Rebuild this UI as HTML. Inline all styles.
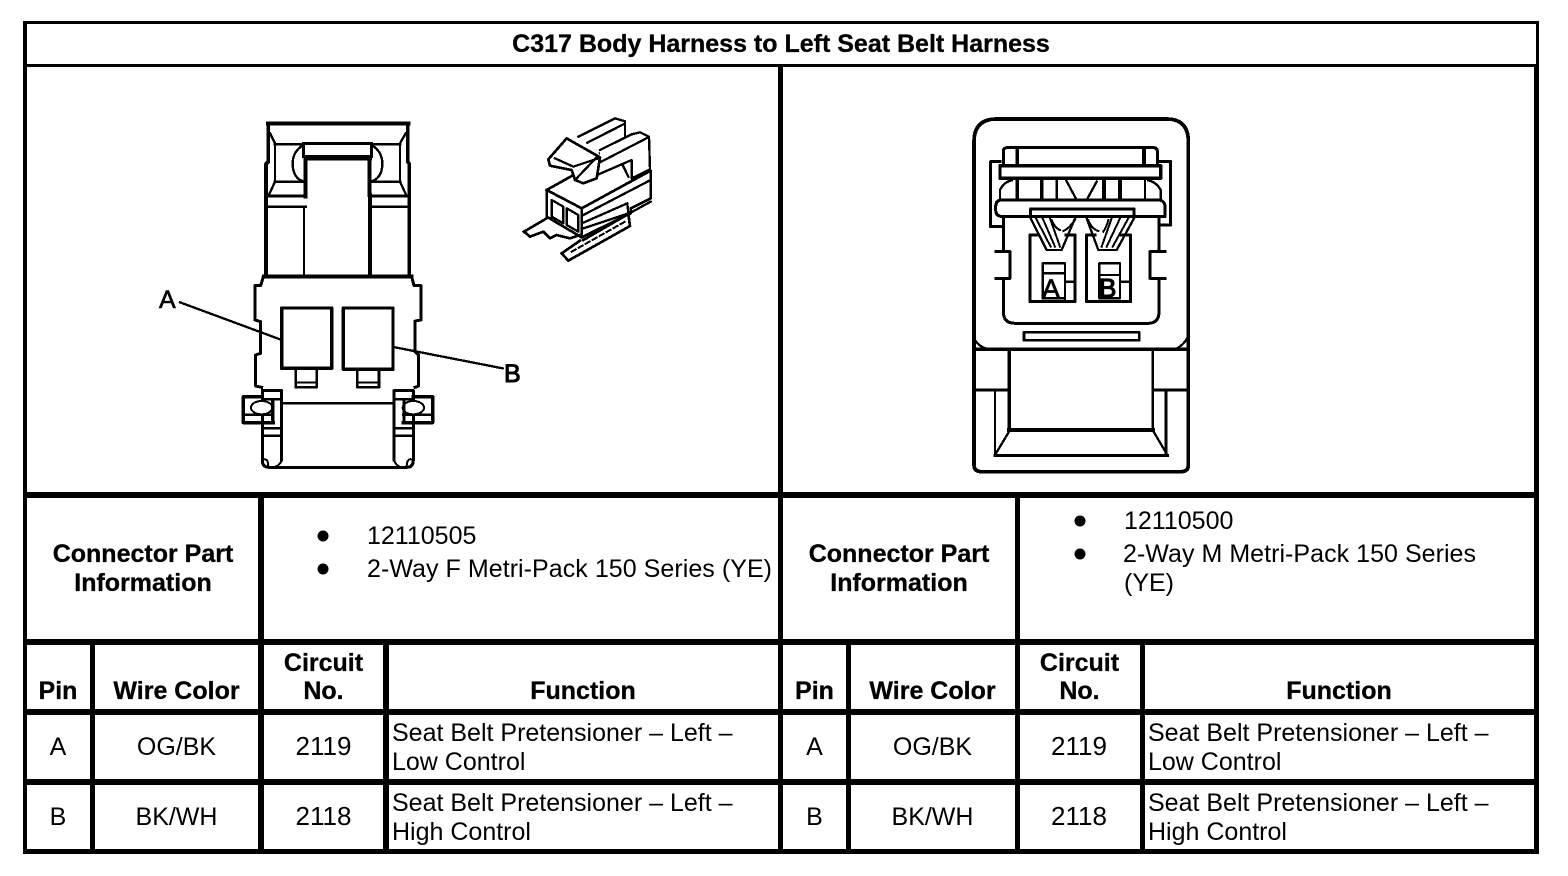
<!DOCTYPE html>
<html lang="en">
<head>
<meta charset="utf-8">
<title>C317 Body Harness to Left Seat Belt Harness</title>
<style>
html,body{margin:0;padding:0;background:#fff;width:1568px;height:876px;overflow:hidden}
svg{display:block}
text{font-family:"Liberation Sans",sans-serif;fill:#000}
.b{font-weight:bold;font-size:25px;text-anchor:middle;stroke:#000;stroke-width:.3px}
.r{font-size:25px}
.c{font-size:25px;text-anchor:middle}
.n{font-size:26px;text-anchor:middle}
.l{font-size:25px}
.ln{fill:none;stroke:#000;stroke-linejoin:round;stroke-linecap:square;shape-rendering:crispEdges}
</style>
</head>
<body>
<svg width="1568" height="876" viewBox="0 0 1568 876" xmlns="http://www.w3.org/2000/svg">
<rect width="1568" height="876" fill="#fff"/>
<g fill="#000" shape-rendering="crispEdges">
<rect x="23" y="21" width="1516" height="3"/>
<rect x="23" y="21" width="4" height="833"/>
<rect x="1536" y="21" width="3" height="45"/><rect x="1534" y="64" width="5" height="790"/>
<rect x="23" y="64" width="1516" height="3"/>
<rect x="23" y="492" width="1516" height="6"/>
<rect x="23" y="639" width="1516" height="6"/>
<rect x="23" y="709" width="1516" height="6"/>
<rect x="23" y="779" width="1516" height="6"/>
<rect x="23" y="849" width="1516" height="5"/>
<rect x="778" y="64" width="5" height="790"/>
<rect x="258" y="492" width="6" height="362"/>
<rect x="1015" y="492" width="5" height="362"/>
<rect x="90" y="639" width="5" height="215"/>
<rect x="846" y="639" width="5" height="215"/>
<rect x="383" y="639" width="6" height="215"/>
<rect x="1140" y="639" width="5" height="215"/>
</g>

<text class="b" x="781" y="52">C317 Body Harness to Left Seat Belt Harness</text>

<!-- Left connector -->
<g transform="translate(140,110) scale(.33333)" class="ln">
<path stroke-width="12" d="M384,40H805"/>
<path stroke-width="11" d="M385,40V155L378,162V500M803,40V155L808,162V500"/>
<path stroke-width="7" d="M390,70L405,100V215L388,252M797,70L780,100V215L797,252"/>
<path stroke-width="8" d="M405,103H490M700,103H780M405,215H490M692,215H780"/>
<path stroke-width="9" d="M490,100H695M490,100V140H695V100"/>
<path stroke-width="12" d="M497,145V260M688,145V255M500,146H690"/>
<path stroke-width="7" d="M490,105Q458,125 458,160Q458,205 492,215M695,105Q727,125 727,160Q727,205 692,215"/>
<path stroke-width="10" d="M385,258H497M695,258H802"/>
<path stroke-width="7" d="M385,290H497M695,290H802M492,290V500"/>
<path stroke-width="12" d="M690,255V500"/>
<path stroke-width="12" d="M372,500H815"/>
<path stroke-width="9" d="M370,500L362,527H345V630L362,635V730L347,735V828L365,832M815,500L822,527H843V630L825,633V725L836,735V828L825,832"/>
<rect x="425" y="594" width="150" height="181" fill="#fff" stroke-width="10"/>
<rect x="610" y="594" width="149" height="184" fill="#fff" stroke-width="10"/>
<path stroke-width="8" d="M467,775V832H530V775M652,778V832H717V778"/>
<path stroke-width="6" d="M467,817H530M652,817H717"/>
<path stroke-width="8" d="M425,880H760"/>
<path stroke-width="9" d="M367,842H425V1050M367,842V1050Q367,1072 387,1072H800Q820,1072 820,1050V842H762V1050"/>
<path stroke-width="6" d="M367,1050Q385,1040 385,1072M425,1050Q420,1068 400,1072M820,1050Q800,1040 800,1072M762,1050Q767,1068 785,1072"/>
<path stroke-width="7" d="M367,955H425M367,977H425M762,955H820M762,977H820M367,868H425M762,868H820"/>
<path stroke-width="10" d="M367,860H310V938H400M820,860H878V938H790"/>
<path stroke-width="7" d="M310,914H400M790,914H878"/>
<ellipse cx="365" cy="893" rx="32" ry="20" stroke-width="6" fill="#fff"/>
<ellipse cx="820" cy="893" rx="32" ry="20" stroke-width="6" fill="#fff"/>
<path stroke-width="10" d="M398,870V932M792,870V932"/>
<path stroke-width="7" d="M120,577L420,688M765,712L1088,775"/>
</g>
<text x="159" y="308" font-size="25" stroke="#000" stroke-width=".6">A</text>
<text x="504" y="382" font-size="25" stroke="#000" stroke-width="1">B</text>

<!-- Isometric connector -->
<g transform="translate(500,100) scale(.33333)" class="ln" stroke-width="7">
<path fill="#fff" d="M235,110L345,55L375,64V125L300,160"/>
<path d="M262,128L372,72"/>
<path fill="#fff" d="M300,150L395,103L420,97L447,110L450,208L395,235V180L298,222"/>
<path d="M298,188L445,112M368,195L385,230"/>
<path fill="#fff" stroke-width="8" d="M145,178L200,115L300,172L290,235L250,250L225,240L215,210L150,197Z"/>
<path d="M165,175L220,200L295,175M225,240L290,172"/>
<path fill="#fff" stroke-width="8" d="M140,270L215,228M140,270L245,325L452,212V295L392,325V340L245,412V325M140,270V350L245,412"/>
<path d="M250,345L452,240M250,368L382,310L385,340L250,385M392,338L452,305"/>
<path stroke-width="7" d="M155,300L190,320V370L155,350ZM200,325L235,345V395L200,375Z"/>
<path stroke-width="8" d="M72,395L140,355M72,395L90,410L130,395L150,415L170,405L210,415L240,405"/>
<path stroke-width="8" d="M185,460L240,422M185,460L205,482L390,378L385,342L250,420"/>
<path stroke-width="6" stroke-dasharray="14,10" d="M215,455L375,365"/>
</g>

<!-- Right connector -->
<g transform="translate(960,105) scale(.33333)" class="ln">
<path stroke-width="11" d="M42,1080V110Q42,42 110,42H620Q685,42 685,110V1080Q685,1100 662,1100H65Q42,1100 42,1080Z"/>
<path stroke-width="11" d="M42,733H685"/>
<path stroke-width="7" d="M42,700Q55,725 85,733M685,695Q670,722 645,733"/>
<rect x="192" y="682" width="346" height="24" stroke-width="8"/>
<path stroke-width="11" d="M148,733V975"/>
<path stroke-width="7" d="M578,733V975"/>
<path stroke-width="13" d="M148,975H578"/>
<path stroke-width="8" d="M42,855H148M578,855H685"/>
<path stroke-width="7" d="M105,855V1050M150,975L105,1050M578,975L622,1050"/>
<path stroke-width="9" d="M618,855V1050M105,1052H622"/>

<path stroke-width="9" d="M130,180V140Q130,128 142,128H580Q592,128 592,140V180"/>
<path stroke-width="11" d="M172,128V180M552,128V180"/>
<path stroke-width="9" d="M120,170H92V365H130M602,170H632V360H597"/>
<rect x="120" y="182" width="482" height="38" stroke-width="10" fill="#fff"/>
<path stroke-width="11" d="M172,220V285M245,220V285M432,220V285M480,220V285"/>
<path stroke-width="7" d="M290,220V285M555,220V285M318,225L350,285M410,230L380,285"/>
<path stroke-width="7" d="M120,280V255Q130,232 155,226M602,280V255Q590,232 565,226"/>
<path stroke-width="9" fill="#fff" d="M125,285H600Q615,290 615,305V335H130Q107,335 107,315V305Q107,285 125,285Z"/>
<path stroke-width="9" d="M130,335V440M597,335V440M108,440H150V520H108M615,440H570V520H615"/>
<path stroke-width="9" d="M130,520V620Q130,655 165,655H565Q597,655 597,620V520"/>
<path stroke-width="9" d="M235,390H210V590H345V390H318M405,390H380V590H512V390H485"/>
<path stroke-width="7" d="M315,530H345M480,530H512"/>
<path stroke-width="7" d="M212,340L260,435H305L345,340M522,340L470,435H415L380,340"/>
<path stroke-width="6" d="M228,340L272,425M248,340L285,425M270,340L300,425M505,340L458,425M480,340L440,425M455,340L425,425"/>
<path stroke-width="6" d="M275,345Q285,370 300,375M345,345Q325,372 310,378M385,345Q395,372 415,378M445,345Q440,365 430,380"/>
<rect x="212" y="312" width="310" height="23" fill="#fff" stroke-width="9"/>
<path stroke-width="7" d="M248,580V475H315V585M248,505H315M248,580H315"/>
<path stroke-width="7" d="M418,580V475H480V580ZM418,510H480"/>
</g>
<text x="1042" y="298" font-size="27" stroke="#000" stroke-width=".8">A</text>
<text x="1099" y="297" font-size="26" stroke="#000" stroke-width="1.2">B</text>

<!-- Info rows -->
<text class="b" x="143" y="562">Connector Part</text>
<text class="b" x="143" y="591">Information</text>
<circle cx="323" cy="536" r="5.5"/><circle cx="323" cy="569" r="5.5"/>
<text class="r" x="367" y="544">12110505</text>
<text class="r" x="367" y="577" textLength="405">2-Way F Metri-Pack 150 Series (YE)</text>

<text class="b" x="899" y="562">Connector Part</text>
<text class="b" x="899" y="591">Information</text>
<circle cx="1080" cy="521" r="5.5"/><circle cx="1080" cy="554" r="5.5"/>
<text class="r" x="1124" y="529">12110500</text>
<text class="r" x="1123" y="562" textLength="353">2-Way M Metri-Pack 150 Series</text>
<text class="r" x="1124" y="591">(YE)</text>

<!-- Left table -->
<text class="b" x="58" y="699">Pin</text>
<text class="b" x="176.500" y="699">Wire Color</text>
<text class="b" x="323.500" y="671">Circuit</text>
<text class="b" x="323.500" y="699">No.</text>
<text class="b" x="583" y="699">Function</text>
<text class="c" x="58" y="755">A</text>
<text class="c" x="176.500" y="755">OG/BK</text>
<text class="n" x="323.500" y="755">2119</text>
<text class="l" x="392" y="741">Seat Belt Pretensioner – Left –</text>
<text class="l" x="392" y="770">Low Control</text>
<text class="c" x="58" y="825">B</text>
<text class="c" x="176.500" y="825">BK/WH</text>
<text class="n" x="323.500" y="825">2118</text>
<text class="l" x="392" y="811">Seat Belt Pretensioner – Left –</text>
<text class="l" x="392" y="840">High Control</text>

<!-- Right table -->
<text class="b" x="814.500" y="699">Pin</text>
<text class="b" x="932.500" y="699">Wire Color</text>
<text class="b" x="1079.500" y="671">Circuit</text>
<text class="b" x="1079.500" y="699">No.</text>
<text class="b" x="1339" y="699">Function</text>
<text class="c" x="814.500" y="755">A</text>
<text class="c" x="932.500" y="755">OG/BK</text>
<text class="n" x="1079" y="755">2119</text>
<text class="l" x="1148" y="741">Seat Belt Pretensioner – Left –</text>
<text class="l" x="1148" y="770">Low Control</text>
<text class="c" x="814.500" y="825">B</text>
<text class="c" x="932.500" y="825">BK/WH</text>
<text class="n" x="1079" y="825">2118</text>
<text class="l" x="1148" y="811">Seat Belt Pretensioner – Left –</text>
<text class="l" x="1148" y="840">High Control</text>
</svg>
</body>
</html>
